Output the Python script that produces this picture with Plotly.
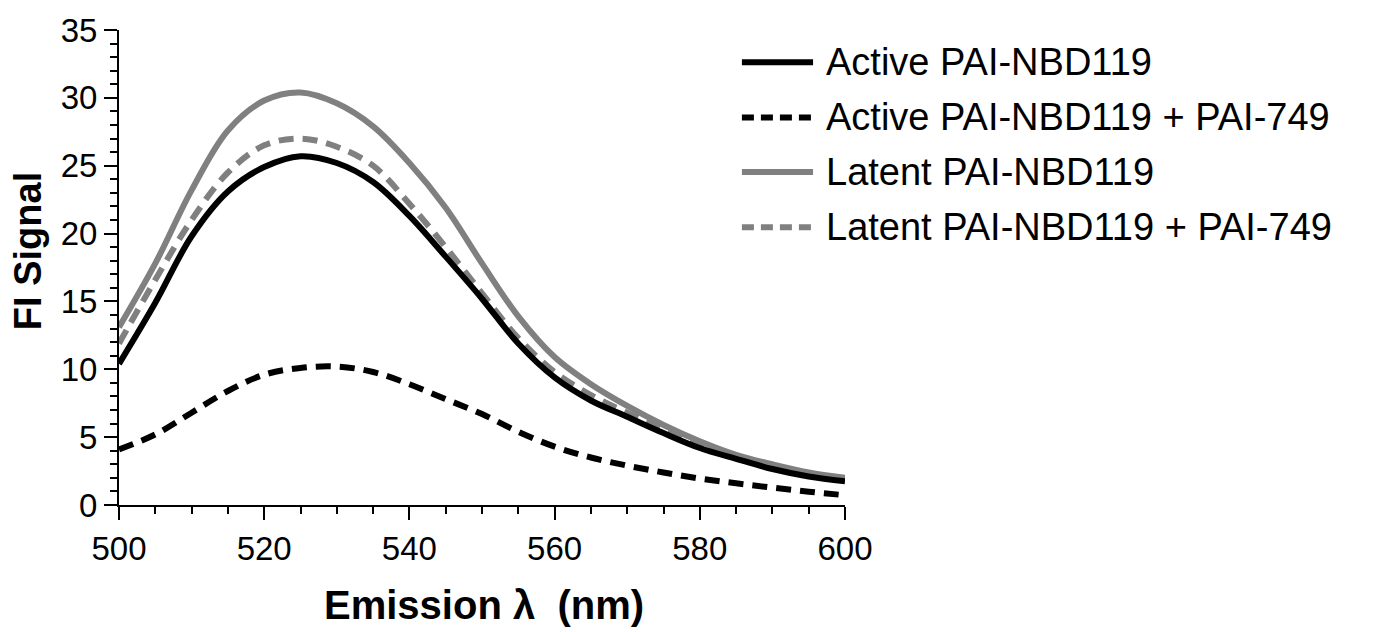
import plotly.graph_objects as go

wavelength = [500, 505, 510, 515, 520, 525, 530, 535, 540, 545, 550,
              555, 560, 565, 570, 575, 580, 585, 590, 595, 600]

active = [10.4, 14.9, 19.8, 23.1, 24.9, 25.7, 25.2, 23.8, 21.3, 18.3, 15.2,
          11.9, 9.4, 7.7, 6.5, 5.3, 4.2, 3.4, 2.65, 2.1, 1.75]
active_749 = [4.1, 5.2, 6.8, 8.4, 9.6, 10.1, 10.2, 9.8, 8.9, 7.8, 6.7,
              5.4, 4.3, 3.5, 2.9, 2.4, 1.95, 1.6, 1.28, 0.98, 0.72]
latent = [13.1, 17.8, 23.2, 27.6, 29.8, 30.4, 29.6, 27.9, 25.2, 21.9, 17.8,
          13.9, 10.9, 8.9, 7.3, 5.9, 4.7, 3.7, 3.0, 2.4, 2.0]
latent_749 = [11.9, 16.6, 21.0, 24.5, 26.5, 27.0, 26.4, 25.0, 22.2, 19.0, 15.6,
              12.3, 9.8, 8.1, 6.8, 5.6, 4.5, 3.6, 2.9, 2.3, 1.9]

series_names = ["Active PAI-NBD119", "Active PAI-NBD119 + PAI-749",
                "Latent PAI-NBD119", "Latent PAI-NBD119 + PAI-749"]
series_values = [active, active_749, latent, latent_749]
series_colors = ["#000000", "#000000", "#808080", "#808080"]
series_dash = ["solid", "15px,9px", "solid", "15px,9px"]
legend_dash = ["solid", "12px,7px", "solid", "12px,7px"]

FONT = "Liberation Sans, Arial, sans-serif"

fig = go.Figure()
draw_order = [3, 2, 0, 1]
for i in draw_order:
    fig.add_trace(go.Scatter(
        x=wavelength, y=series_values[i], name=series_names[i],
        mode="lines", line=dict(color=series_colors[i], width=6,
                                dash=series_dash[i], shape="spline", smoothing=1.0),
        showlegend=False, hoverinfo="x+y+name"))

# custom legend
row_y = [0.932, 0.816, 0.701, 0.585]
for i in range(4):
    fig.add_shape(type="line", xref="paper", yref="paper",
                  x0=0.858, x1=0.956, y0=row_y[i], y1=row_y[i],
                  line=dict(color=series_colors[i], width=6, dash=legend_dash[i]))
    fig.add_annotation(xref="paper", yref="paper", x=0.971, y=row_y[i],
                       text=series_names[i], showarrow=False,
                       xanchor="left", yanchor="middle",
                       font=dict(family=FONT, size=38, color="black"))

fig.add_annotation(xref="paper", yref="paper", x=0.503, y=-0.211,
                   text="<b>Emission λ  (nm)</b>", showarrow=False,
                   xanchor="center", yanchor="middle",
                   font=dict(family=FONT, size=40, color="black"))
fig.add_annotation(xref="paper", yref="paper", x=-0.125, y=0.535,
                   text="<b>FI Signal</b>", showarrow=False, textangle=-90,
                   xanchor="center", yanchor="middle",
                   font=dict(family=FONT, size=38, color="black"))

fig.update_xaxes(range=[500, 600], tickmode="linear", tick0=500, dtick=20,
                 showline=True, linecolor="black", linewidth=2,
                 ticks="outside", ticklen=13, tickwidth=2, tickcolor="black",
                 minor=dict(ticks="outside", ticklen=7, tickwidth=2,
                            tickcolor="black", dtick=5, tick0=500),
                 showgrid=False, zeroline=False,
                 tickfont=dict(family=FONT, size=33, color="black"))
fig.update_yaxes(range=[0, 35], tickmode="linear", tick0=0, dtick=5,
                 showline=True, linecolor="black", linewidth=2,
                 ticks="outside", ticklen=13, tickwidth=2, tickcolor="black",
                 minor=dict(ticks="outside", ticklen=7, tickwidth=2,
                            tickcolor="black", dtick=1, tick0=0),
                 showgrid=False, zeroline=False,
                 tickfont=dict(family=FONT, size=33, color="black"))

fig.update_layout(width=1377, height=632,
                  margin=dict(l=119, r=532, t=21, b=127, pad=0),
                  plot_bgcolor="white", paper_bgcolor="white",
                  showlegend=False)

fig.write_html("out.html", config={"displayModeBar": False},
               post_script="document.body.style.margin='0px';document.body.style.padding='0px';")
